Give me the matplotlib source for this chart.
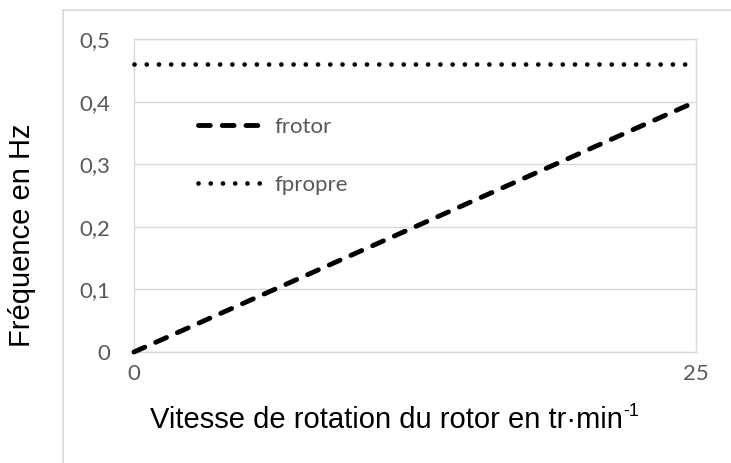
import matplotlib
matplotlib.use('Agg')
import matplotlib.pyplot as plt
from matplotlib.lines import Line2D

# data
vitesse = [0, 25]
frotor = [0, 0.4]
fpropre = [0.46, 0.46]
x_ticks = [0, 25]
y_ticks = [0, 0.1, 0.2, 0.3, 0.4, 0.5]
y_labels = ['0', '0,1', '0,2', '0,3', '0,4', '0,5']

W, H = 731, 463
plt.rcParams['lines.scale_dashes'] = False
grey = '#D9D9D9'
tick_col = '#595959'
tick_font = 'Lato'
title_font = 'Liberation Sans'

fig = plt.figure(figsize=(W / 100, H / 100), dpi=100)

# outer chart frame (only left and top visible in the crop)
fig.add_artist(Line2D([63 / W, 63 / W], [0, 1 - 10 / H], color=grey, lw=1.2,
                      transform=fig.transFigure))
fig.add_artist(Line2D([63 / W, 1], [1 - 10 / H, 1 - 10 / H], color=grey, lw=1.2,
                      transform=fig.transFigure))

ax = fig.add_axes([134 / W, 1 - 352 / H, (696 - 134) / W, (352 - 39) / H])

ax.plot(vitesse, frotor, color='black', lw=3.5, linestyle=(0, (8.5, 8.6)),
        dash_capstyle='round', label='frotor', clip_on=False, zorder=3)
ax.plot(vitesse, fpropre, color='black', lw=3.4, linestyle=(0, (0.01, 8.8)),
        dash_capstyle='round', label='fpropre', clip_on=False, zorder=3)

ax.set_xlim(0, 25)
ax.set_ylim(0, 0.5)
ax.set_xticks(x_ticks)
ax.set_xticklabels([str(v) for v in x_ticks])
ax.set_yticks(y_ticks)
ax.set_yticklabels(y_labels)
ax.yaxis.grid(True, color=grey, lw=1.0)
ax.set_axisbelow(True)
for s in ax.spines.values():
    s.set_color(grey)
    s.set_linewidth(1.0)
ax.tick_params(length=0, labelcolor=tick_col, labelsize=16)
ax.tick_params(axis='y', pad=17)
ax.tick_params(axis='x', pad=9)
for lab in ax.get_xticklabels() + ax.get_yticklabels():
    lab.set_fontfamily(tick_font)

leg = ax.legend(loc='upper left', bbox_to_anchor=(198 / W, 1 - 117 / H),
                bbox_transform=fig.transFigure, frameon=False,
                borderpad=0, borderaxespad=0, handlelength=3.0,
                handletextpad=0.45, labelspacing=1.7,
                prop={'family': tick_font, 'size': 16})
for t in leg.get_texts():
    t.set_color(tick_col)

# axis titles
fig.text(22.5 / W, 1 - 235 / H, 'Fréquence en Hz', rotation=90,
         ha='center', va='center', fontsize=21, family=title_font)
xl = fig.text(386 / W, 1 - 428 / H, 'Vitesse de rotation du rotor en tr·min',
              ha='center', va='baseline', fontsize=21, family=title_font)
fig.canvas.draw()
bb = xl.get_window_extent()
fig.text((bb.x1 + 1) / W, 1 - 416 / H, '-1', ha='left', va='baseline',
         fontsize=13, family=title_font)

fig.savefig('out.png', dpi=100)
